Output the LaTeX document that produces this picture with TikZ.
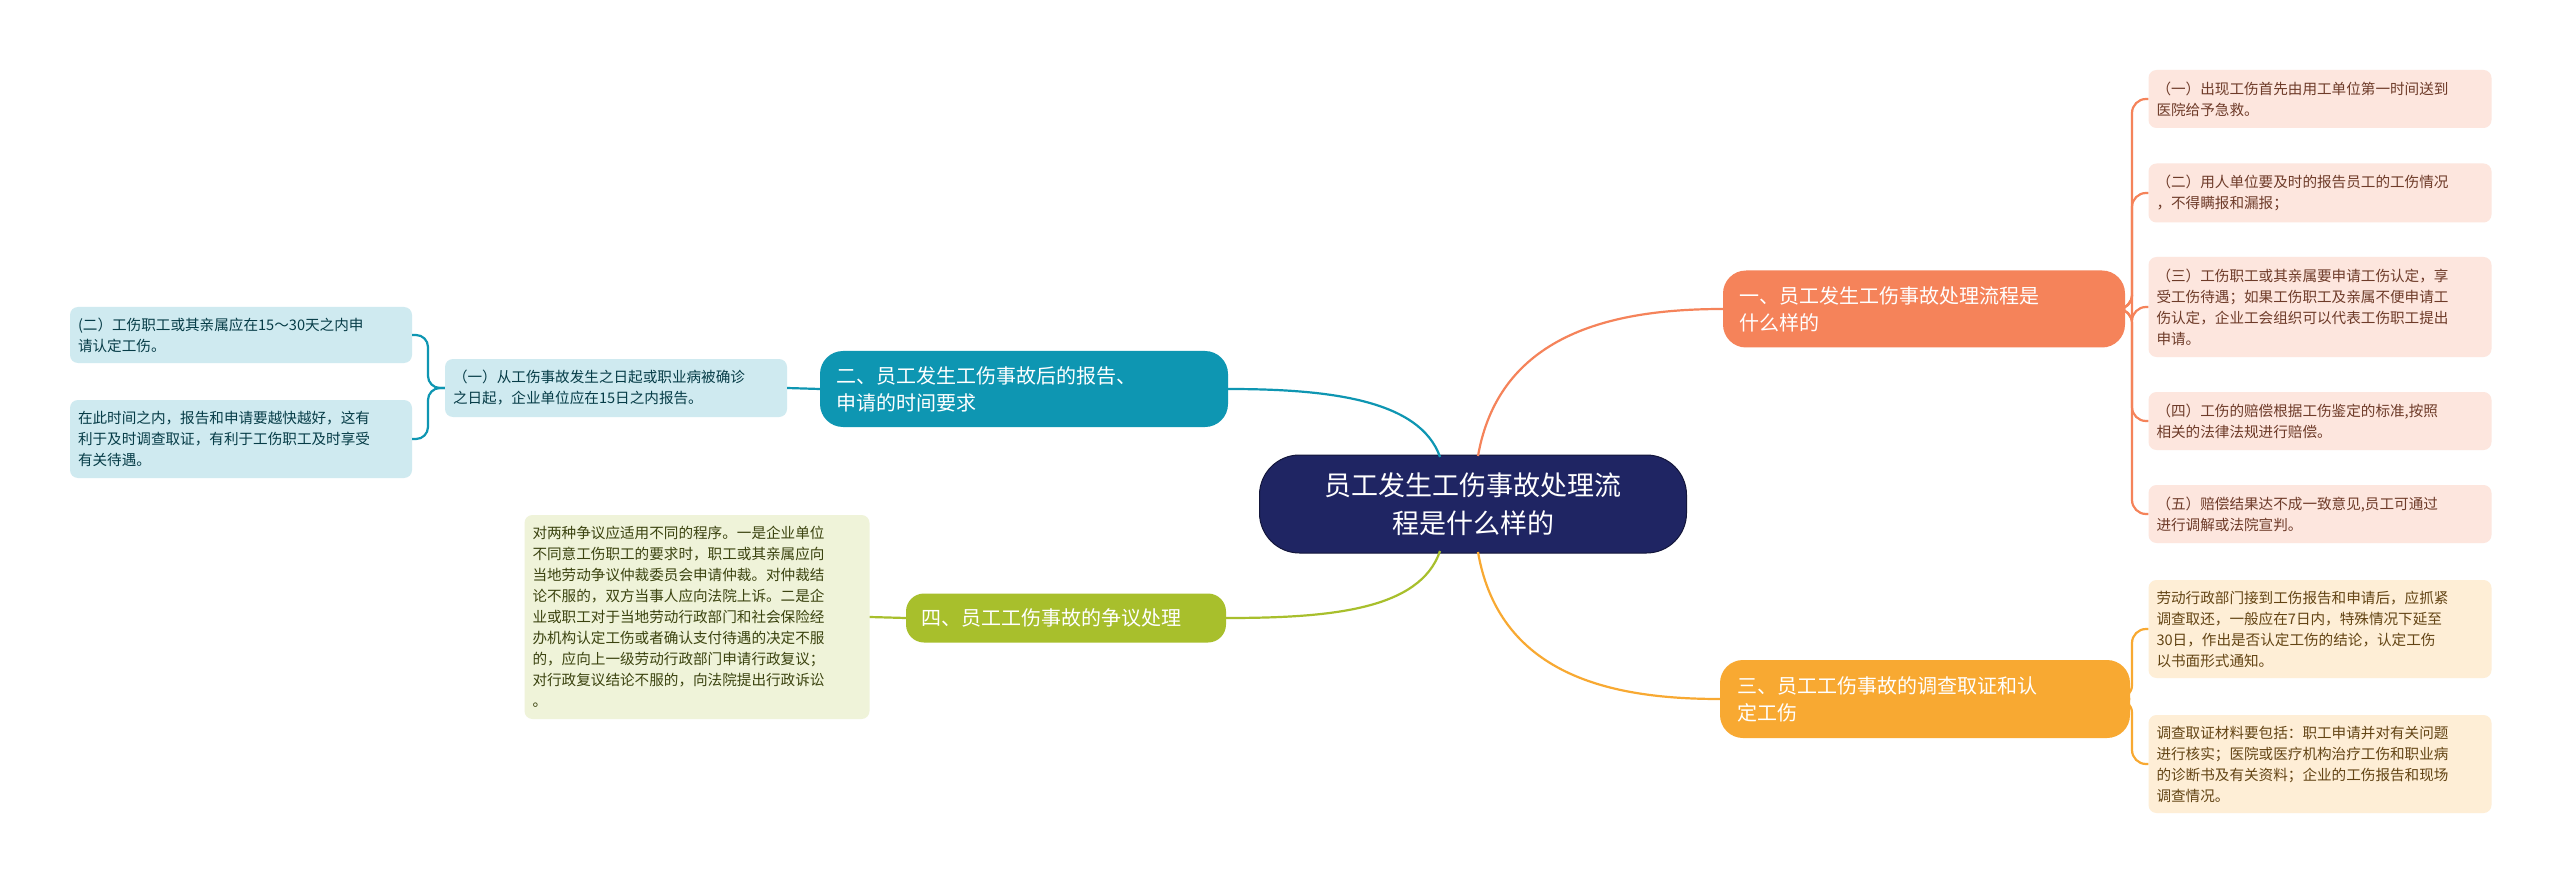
\documentclass[tikz,border=0pt]{standalone}
\usepackage{fontspec}
\setmainfont{Noto Sans CJK SC}
\begin{document}
\begin{tikzpicture}[x=1pt,y=-1pt,
  br/.style={rounded corners=23pt, text=white, align=left, font=\fontsize{20}{27}\selectfont, inner sep=0pt},
  leaf/.style={rounded corners=8pt, align=left, font=\fontsize{14.6}{21}\selectfont, inner sep=0pt},
  ln/.style={line width=2.2pt}]
\useasboundingbox (0,0) rectangle (2560,885);
\fill[white] (0,0) rectangle (2560,885);
\definecolor{navy}{HTML}{1F2563}
\definecolor{oran}{HTML}{F5835A}
\definecolor{yel}{HTML}{F8A932}
\definecolor{teal}{HTML}{0E96B2}
\definecolor{grn}{HTML}{A8BF2C}
% center
\node[fill=navy, draw=navy!60!black, line width=1pt, rounded corners=40pt, minimum width=427pt, minimum height=98pt, text=white, align=center, font=\fontsize{27}{38}\selectfont, inner sep=0pt] (c) at (1473,504) {员工发生工伤事故处理流\\程是什么样的};
% branches
\node[br, fill=oran, minimum width=402pt, minimum height=77pt, text width=370pt] (b1) at (1924,309) {一、员工发生工伤事故处理流程是\\什么样的};
\node[br, fill=yel, minimum width=410pt, minimum height=78pt, text width=376pt] (b3) at (1925,699) {三、员工工伤事故的调查取证和认\\定工伤};
\node[br, fill=teal, minimum width=408pt, minimum height=76pt, text width=376pt] (b2) at (1024,389) {二、员工发生工伤事故后的报告、\\申请的时间要求};
\node[br, fill=grn, rounded corners=18pt, minimum width=320pt, minimum height=49pt, text width=290pt] (b4) at (1066,618) {四、员工工伤事故的争议处理};
% right orange leaves
\tikzset{lo/.style={leaf, fill=oran!20, text=oran!45!black, minimum width=343pt, text width=327pt}}
\node[lo, minimum height=58pt] (o1) at (2320,99) {（一）出现工伤首先由用工单位第一时间送到\\医院给予急救。};
\node[lo, minimum height=59pt] (o2) at (2320,193) {（二）用人单位要及时的报告员工的工伤情况\\，不得瞒报和漏报；};
\node[lo, minimum height=100pt] (o3) at (2320,307) {（三）工伤职工或其亲属要申请工伤认定，享\\受工伤待遇；如果工伤职工及亲属不便申请工\\伤认定，企业工会组织可以代表工伤职工提出\\申请。};
\node[lo, minimum height=58pt] (o4) at (2320,421) {（四）工伤的赔偿根据工伤鉴定的标准,按照\\相关的法律法规进行赔偿。};
\node[lo, minimum height=58pt] (o5) at (2320,514) {（五）赔偿结果达不成一致意见,员工可通过\\进行调解或法院宣判。};
\foreach \n in {o1,o2,o3,o4,o5}
  \draw[ln, oran, rounded corners=14pt] (b1.east) -- (2132,309) |- (\n.west);
% yellow leaves
\tikzset{ly/.style={leaf, fill=yel!20, text=yel!40!black, minimum width=343pt, text width=327pt, minimum height=98pt}}
\node[ly] (y1) at (2320,629) {劳动行政部门接到工伤报告和申请后，应抓紧\\调查取还，一般应在7日内，特殊情况下延至\\30日，作出是否认定工伤的结论，认定工伤\\以书面形式通知。};
\node[ly] (y2) at (2320,764) {调查取证材料要包括：职工申请并对有关问题\\进行核实；医院或医疗机构治疗工伤和职业病\\的诊断书及有关资料；企业的工伤报告和现场\\调查情况。};
\foreach \n in {y1,y2}
  \draw[ln, yel, rounded corners=14pt] (b3.east) -- (2132,699) |- (\n.west);
% teal leaves
\tikzset{lt/.style={leaf, fill=teal!20, text=teal!40!black, minimum width=342pt, text width=326pt}}
\node[lt, minimum height=58pt] (t0) at (616,388) {（一）从工伤事故发生之日起或职业病被确诊\\之日起，企业单位应在15日之内报告。};
\node[lt, minimum height=56pt] (t1) at (241,335) {(二）工伤职工或其亲属应在15～30天之内申\\请认定工伤。};
\node[lt, minimum height=78pt] (t2) at (241,439) {在此时间之内，报告和申请要越快越好，这有\\利于及时调查取证，有利于工伤职工及时享受\\有关待遇。};
\draw[ln, teal] (b2.west) -- (t0.east);
\foreach \n in {t1,t2}
  \draw[ln, teal, rounded corners=12pt] (t0.west) -- (428,388) |- (\n.east);
% green leaf
\node[leaf, fill=grn!18, text=grn!35!black, minimum width=345pt, minimum height=204pt, text width=329pt] (g1) at (697,617) {对两种争议应适用不同的程序。一是企业单位\\不同意工伤职工的要求时，职工或其亲属应向\\当地劳动争议仲裁委员会申请仲裁。对仲裁结\\论不服的，双方当事人应向法院上诉。二是企\\业或职工对于当地劳动行政部门和社会保险经\\办机构认定工伤或者确认支付待遇的决定不服\\的，应向上一级劳动行政部门申请行政复议；\\对行政复议结论不服的，向法院提出行政诉讼\\。};
\draw[ln, grn] (b4.west) -- (g1.east);
% center curves
\draw[ln, oran] (1478,456) .. controls (1500,330) and (1620,309) .. (b1.west);
\draw[ln, yel] (1478,552) .. controls (1500,680) and (1620,699) .. (b3.west);
\draw[ln, teal] (1440,457) .. controls (1420,400) and (1330,389) .. (b2.east);
\draw[ln, grn] (1440,551) .. controls (1420,610) and (1330,618) .. (b4.east);
\end{tikzpicture}
\end{document}
